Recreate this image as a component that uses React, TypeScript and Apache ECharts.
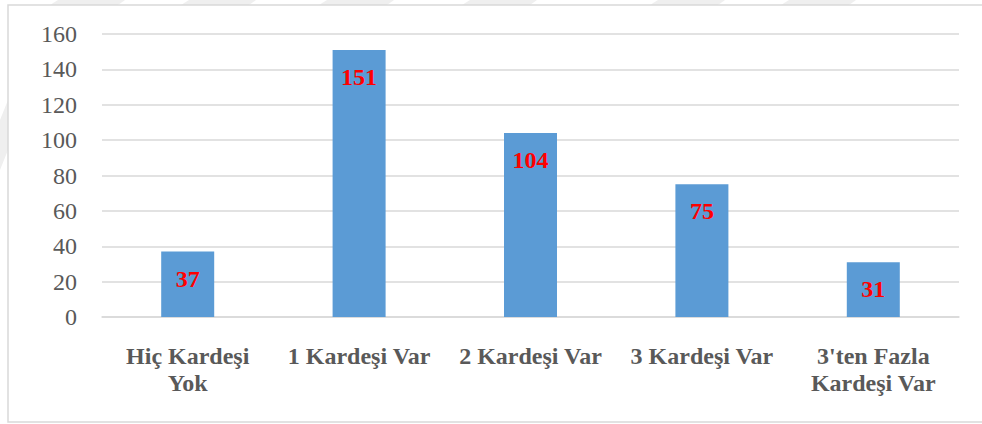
import React, { useEffect, useRef } from "react";
import * as echarts from "echarts";

const categories = ["Hiç Kardeşi\nYok", "1 Kardeşi Var", "2 Kardeşi Var", "3 Kardeşi Var", "3'ten Fazla\nKardeşi Var"];
const values = [37, 151, 104, 75, 31];
const yTicks = { min: 0, max: 160, interval: 20 };

const SERIF = "'Liberation Serif', 'Times New Roman', 'DejaVu Serif', serif";

export default function App() {
  const ref = useRef<HTMLDivElement>(null);
  useEffect(() => {
    if (!ref.current) return;
    const chart = echarts.init(ref.current, null, { renderer: "svg" });
    const stripes = [50, 181, 319, 462, 650, 781].map((x) => ({
      type: "polygon",
      silent: true,
      z: -10,
      shape: { points: [[x + 8, 0], [x + 75, 0], [x + 68, 5], [x, 5]] },
      style: { fill: "#efefef" },
    }));
    chart.setOption({
      animation: false,
      backgroundColor: "#ffffff",
      grid: { left: 102, right: 23, top: 34, bottom: 107, containLabel: false },
      xAxis: {
        type: "category",
        data: categories,
        axisLine: { show: true, lineStyle: { color: "#d9d9d9", width: 1.5 } },
        axisTick: { show: false },
        axisLabel: {
          interval: 0,
          margin: 25,
          fontFamily: SERIF,
          fontWeight: "bold",
          fontSize: 24,
          lineHeight: 27,
          color: "#595959",
        },
      },
      yAxis: {
        type: "value",
        min: yTicks.min,
        max: yTicks.max,
        interval: yTicks.interval,
        axisLine: { show: false },
        axisTick: { show: false },
        splitLine: { lineStyle: { color: "#d9d9d9", width: 1.5 } },
        axisLabel: {
          margin: 25,
          fontFamily: SERIF,
          fontSize: 24,
          color: "#595959",
        },
      },
      graphic: [
        ...stripes,
        {
          type: "polygon",
          silent: true,
          shape: { points: [[0, 120], [8, 100], [8, 150], [0, 170]] },
          style: { fill: "#efefef" },
        },
        {
          type: "rect",
          silent: true,
          shape: { x: 8, y: 5, width: 980, height: 417 },
          style: { fill: "none", stroke: "#d9d9d9", lineWidth: 1.5 },
        },
      ],
      series: [
        {
          type: "bar",
          data: values,
          barWidth: 53,
          itemStyle: { color: "#5b9bd5" },
          label: {
            show: true,
            position: "insideTop",
            distance: 15,
            fontFamily: SERIF,
            fontWeight: "bold",
            fontSize: 24,
            color: "#ff0000",
          },
        },
      ],
    });
    return () => chart.dispose();
  }, []);
  return <div ref={ref} style={{ position: "fixed", left: 0, top: 0, width: 982, height: 424 }} />;
}
